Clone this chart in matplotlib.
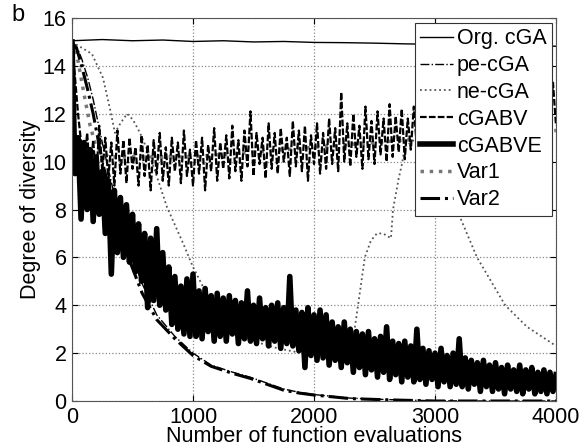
import numpy as np
import matplotlib
matplotlib.use("Agg")
import matplotlib.pyplot as plt

plt.rcParams['font.family'] = ['Liberation Sans', 'DejaVu Sans']
plt.rcParams['font.size'] = 15.5

# Org. cGA - nearly flat at the top
org_x = np.arange(0, 4001, 250)
org_y = [15.05, 15.1, 15.05, 15.08, 15.02, 15.05, 15.0, 15.02, 14.98,
         14.97, 14.95, 14.92, 14.9, 14.9, 14.88, 14.85, 14.82]

# smooth decays (pe-cGA, Var2)
dec_x = [0, 40, 80, 130, 175, 250, 350, 450, 580, 700, 850, 1000, 1150,
         1330, 1470, 1750, 1880, 2000, 2300, 2600, 3000, 3500, 4000]
var2_y = [15.0, 14.7, 14.0, 13.0, 12.0, 10.0, 8.0, 6.2, 4.5, 3.4, 2.6, 1.9,
          1.45, 1.15, 0.95, 0.45, 0.33, 0.25, 0.1, 0.05, 0.0, 0.0, 0.0]
pe_y = [15.0, 14.8, 14.3, 13.5, 12.6, 10.8, 8.6, 6.7, 4.9, 3.6, 2.7, 2.0,
        1.5, 1.2, 1.0, 0.5, 0.36, 0.27, 0.12, 0.06, 0.01, 0.0, 0.0]

# ne-cGA dotted curve with bump, valley and late hump
ne_x = [0, 66, 165, 256, 314, 355, 400, 455, 504, 562, 630, 700, 785, 917,
        1000, 1100, 1200, 1300, 1400, 1500, 1700, 1900, 2100, 2250, 2300,
        2330, 2364, 2420, 2470, 2520, 2570, 2636, 2653, 2700, 2727, 2750,
        2850, 3000, 3100, 3180, 3347, 3580, 3760, 4000]
ne_y = [15.0, 14.8, 14.5, 13.5, 12.2, 11.2, 11.6, 12.0, 11.75, 11.2, 10.4,
        9.4, 8.1, 6.6, 5.6, 4.6, 3.8, 3.2, 2.8, 2.5, 2.2, 2.0, 1.9, 2.0, 2.1,
        2.8, 4.0, 6.0, 6.7, 7.0, 7.0, 6.8, 8.0, 9.3, 9.9, 10.6, 11.0, 10.8,
        9.5, 8.0, 6.0, 4.0, 3.1, 2.3]

# Var1 - thick dotted, sits inside the noisy band
var1_x = [0, 50, 100, 150, 200, 300, 1000, 2000, 3000, 4000]
var1_y = [15.0, 14.2, 12.8, 11.5, 10.6, 10.2, 10.2, 10.6, 11.0, 11.3]

# noisy series, sampled every 25 evaluations
noisy_x = np.arange(0, 4001, 25)

cgabv_y = [15.0, 13.5, 12.0, 10.8, 9.6, 11.2, 9.4, 10.9, 9.2, 11.5, 9.6, 11.0,
           9.3, 10.8, 9.0, 11.3, 9.5, 10.9, 9.1, 11.0, 9.7, 10.6, 9.0, 11.1,
           9.4, 10.7, 8.8, 10.9, 9.5, 11.2, 9.2, 10.6, 9.0, 11.0, 9.6, 10.8,
           9.1, 11.3, 9.4, 10.5, 9.0, 10.9, 9.5, 11.0, 8.8, 10.7, 9.6, 11.4,
           9.2, 10.8, 9.7, 11.1, 9.3, 11.5, 9.6, 10.9, 9.2, 11.3, 9.8, 12.1,
           9.4, 11.2, 9.9, 11.0, 9.3, 11.6, 9.7, 11.2, 9.5, 11.4, 10.0, 11.0,
           9.4, 11.7, 9.8, 11.3, 9.6, 11.5, 9.2, 11.1, 9.9, 11.6, 9.5, 11.2,
           9.7, 11.8, 9.9, 11.4, 9.6, 12.9, 10.0, 11.6, 9.8, 12.0, 10.2, 11.5,
           9.7, 12.3, 10.1, 11.7, 9.9, 12.1, 10.3, 11.8, 10.0, 12.4, 10.2, 11.9,
           10.4, 12.2, 10.1, 11.8, 10.5, 12.3, 10.6, 12.0, 10.3, 12.4, 10.7, 12.1,
           10.5, 12.3, 10.8, 12.0, 10.6, 12.5, 10.9, 12.2, 10.7, 12.4, 11.0, 12.1,
           10.8, 12.6, 11.1, 12.3, 10.9, 12.5, 11.2, 12.2, 11.0, 12.7, 11.3, 12.4,
           11.1, 12.6, 11.4, 12.3, 11.2, 12.8, 11.5, 12.5, 11.3, 12.9, 11.6, 12.6,
           11.5, 12.7, 11.6, 13.3, 11.5]

cgabve_y = [15.0, 9.5, 11.0, 7.6, 10.8, 8.0, 10.5, 7.5, 10.2, 7.8, 9.6, 7.0,
            9.2, 5.3, 8.8, 6.2, 8.5, 6.0, 8.2, 5.8, 7.8, 5.4, 7.4, 5.0, 7.0,
            3.9, 6.8, 4.2, 7.2, 4.0, 6.2, 3.8, 5.6, 3.2, 5.2, 3.0, 4.8, 2.8,
            5.1, 2.7, 5.3, 2.7, 4.6, 2.6, 4.7, 2.9, 4.4, 2.5, 4.5, 2.7, 4.3,
            2.5, 4.4, 2.8, 4.2, 2.4, 4.1, 2.6, 4.6, 2.5, 4.0, 2.4, 4.3, 2.6,
            3.9, 2.3, 4.0, 2.5, 4.1, 2.2, 3.9, 2.4, 5.2, 2.3, 3.8, 2.1, 3.7,
            1.4, 3.9, 1.9, 3.6, 1.7, 3.8, 1.8, 3.6, 1.5, 3.3, 1.7, 3.1, 1.4,
            3.3, 1.6, 3.0, 1.2, 2.9, 1.4, 2.8, 1.1, 2.9, 1.3, 2.6, 1.0, 2.7,
            1.2, 3.1, 0.9, 2.5, 1.1, 2.4, 0.8, 2.5, 1.0, 2.3, 0.8, 3.0, 0.9,
            2.2, 0.7, 2.1, 0.9, 2.0, 0.6, 2.2, 0.8, 1.9, 0.6, 2.0, 0.7, 2.6,
            0.6, 1.8, 0.5, 1.7, 0.7, 1.6, 0.4, 1.7, 0.6, 1.5, 0.4, 1.6, 0.5,
            1.4, 0.3, 1.5, 0.5, 1.3, 0.4, 1.5, 0.3, 1.3, 0.5, 1.4, 0.3, 1.2,
            0.4, 1.3, 0.3, 1.2, 0.4, 1.1]

fig = plt.figure(figsize=(5.83, 4.48), dpi=100)
ax = fig.add_axes([0.1235, 0.1049, 0.8302, 0.8549])

l_org, = ax.plot(org_x, org_y, '-', color='black', lw=1.0)
l_pe, = ax.plot(dec_x, pe_y, '-.', color='black', lw=1.0)
l_ne, = ax.plot(ne_x, ne_y, ':', color='#555555', lw=1.3)
l_v1, = ax.plot(var1_x, var1_y, ':', color='#777777', lw=2.5)
l_bv, = ax.plot(noisy_x, cgabv_y, '--', color='black', lw=1.6, dashes=(3, 1))
l_v2, = ax.plot(dec_x, var2_y, '-.', color='black', lw=2.2)
l_bve, = ax.plot(noisy_x, cgabve_y, '-', color='black', lw=4.0)

ax.set_xlim(0, 4000)
ax.set_ylim(0, 16)
ax.set_xticks([0, 1000, 2000, 3000, 4000])
ax.set_yticks([0, 2, 4, 6, 8, 10, 12, 14, 16])
ax.grid(True, linestyle=':', color='#888888', lw=0.9)
ax.tick_params(direction='in', top=True, right=True, length=4, labelsize=15.5)
ax.tick_params(axis='x', pad=4)
ax.tick_params(axis='y', pad=4)
for s in ax.spines.values():
    s.set_color('#555555')

ax.set_xlabel('Number of function evaluations', fontsize=15.5, labelpad=-1)
ax.set_ylabel('Degree of diversity', fontsize=15.5, labelpad=1)
fig.text(0.02, 0.99, 'b', fontsize=17, va='top')

leg = ax.legend([l_org, l_pe, l_ne, l_bv, l_bve, l_v1, l_v2],
                ['Org. cGA', 'pe-cGA', 'ne-cGA', 'cGABV', 'cGABVE', 'Var1', 'Var2'],
                loc='upper right', bbox_to_anchor=(0.992, 0.987), borderaxespad=0,
                fancybox=False, framealpha=1, edgecolor='#333333',
                handlelength=1.5, handletextpad=0.2, labelspacing=0.27,
                borderpad=0.25, fontsize=15.5)
leg.get_frame().set_linewidth(0.8)

fig.savefig('out.png', dpi=100)
